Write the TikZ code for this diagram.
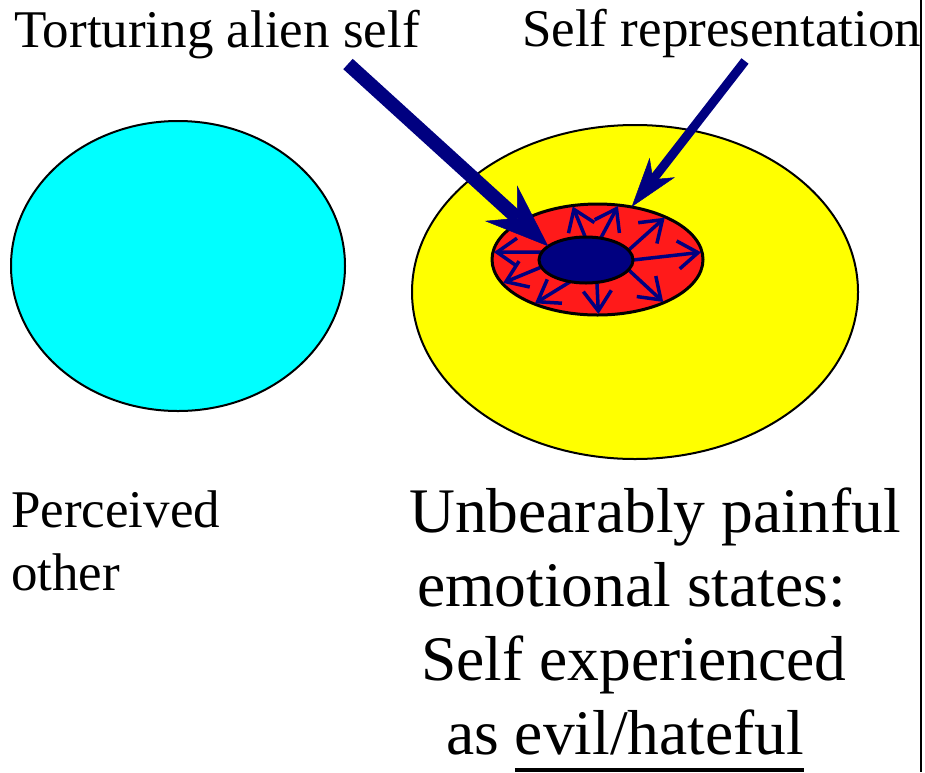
\documentclass[tikz,border=0pt]{standalone}
\usepackage{fontspec}
\newfontfamily\tnr{Liberation Serif}
\usetikzlibrary{shapes.geometric,arrows.meta}
\definecolor{navyc}{RGB}{0,0,128}
\definecolor{cyanc}{RGB}{0,255,255}
\definecolor{yellowc}{RGB}{255,255,0}
\definecolor{redc}{RGB}{255,26,26}
\newlength\ulw
\newcommand\myul[1]{\settowidth\ulw{#1}\rlap{\rule[-18pt]{\ulw}{4pt}}#1}
\tikzset{
  blob/.style={ellipse, draw=black, inner sep=0pt, outer sep=0pt},
  lbl/.style={anchor=base west, inner sep=0pt},
  ray/.style={draw=navyc, line width=3.5pt, -{Straight Barb[length=20pt,width=28pt]}, shorten >=1pt},
  fatarrow/.style={draw=navyc, fill=navyc, line width=14pt, -{Stealth[length=64pt,width=48pt,inset=22pt,line width=0.5pt]}},
  thinarrow/.style={draw=navyc, fill=navyc, line width=9pt, -{Stealth[length=50pt,width=32pt,inset=15pt,line width=0.5pt]}}
}
\begin{document}
\begin{tikzpicture}[x=1pt,y=-1pt]
\useasboundingbox (0,0) rectangle (925,772);
% ellipses
\node[blob, fill=cyanc, line width=2pt, minimum width=334pt, minimum height=290pt] (other) at (178,266) {};
\node[blob, fill=yellowc, line width=2pt, minimum width=446pt, minimum height=334pt] (self) at (635,292) {};
\node[blob, fill=redc, line width=3pt, minimum width=211pt, minimum height=111pt] (rep) at (597.5,259.5) {};
% small radiating arrows
\node[blob, line width=3pt, minimum width=94pt, minimum height=46pt, draw=none] (coreA) at (586,260) {};
\draw[ray] (coreA.170) -- (rep.176);
\draw[ray] (coreA.189) -- (rep.194);
\draw[ray] (coreA.234) -- (rep.215);
\draw[ray] (coreA.296) -- (rep.271);
\draw[ray] (coreA.347) -- (rep.327);
\draw[ray] (coreA.0) -- (rep.4);
\draw[ray] (coreA.13) -- (rep.32);
\draw[ray] (coreA.56) -- (rep.69);
\draw[ray] (coreA.92) -- (rep.115);
% inner core
\node[blob, fill=navyc, line width=3pt, minimum width=94pt, minimum height=46pt] (core) at (586,260) {};
% big arrows
\coordinate (s1) at (348,64);
\coordinate (s2) at (745,61);
\draw[fatarrow] (s1) -- (core.160);
\draw[thinarrow] (s2) -- (rep.57);
% right border line
\coordinate (b1) at (921,0);
\coordinate (b2) at (921,772);
\draw[line width=2pt] (b1) -- (b2);
% labels
\node[lbl] (t1) at (14,47) {\fontsize{53}{60}\selectfont\tnr Torturing alien self};
\node[lbl] (t2) at (522,46) {\fontsize{53}{60}\selectfont\tnr Self representation};
\node[lbl] (p1) at (11,527) {\fontsize{53}{60}\selectfont\tnr Perceived};
\node[lbl] (p2) at (11,590) {\fontsize{53}{60}\selectfont\tnr other};
\node[lbl] (u1) at (409,532) {\fontsize{63.5}{74}\selectfont\tnr Unbearably painful};
\node[lbl] (u2) at (417,606) {\fontsize{63.5}{74}\selectfont\tnr emotional states:};
\node[lbl] (u3) at (421,680) {\fontsize{63.5}{74}\selectfont\tnr Self experienced};
\node[lbl] (u4) at (446,754) {\fontsize{63.5}{74}\selectfont\tnr as \myul{evil/hateful}};
\end{tikzpicture}
\end{document}
